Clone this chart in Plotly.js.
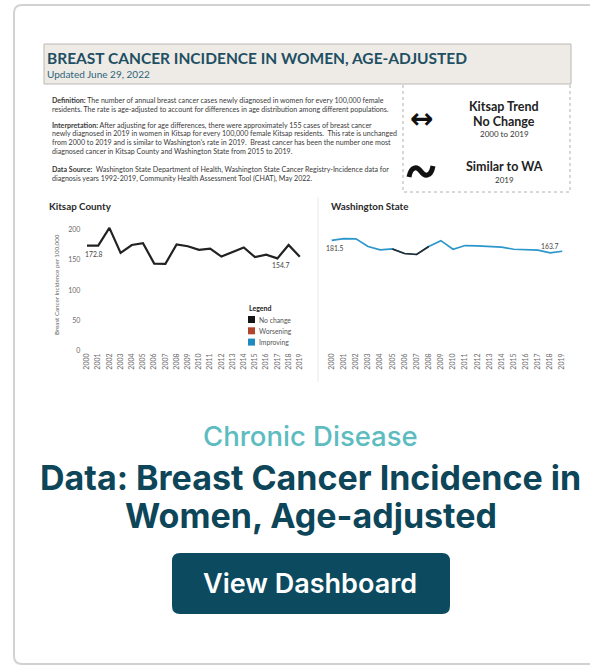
<!DOCTYPE html>
<html><head><meta charset="utf-8">
<script src="https://cdn.plot.ly/plotly-3.0.1.min.js"></script>
<style>html,body{margin:0;padding:0;background:#fff;overflow:hidden}#chart{width:590px;height:666px}</style>
</head><body><div id="chart"></div>
<script>
// ---- data ----
const years = [2000,2001,2002,2003,2004,2005,2006,2007,2008,2009,2010,2011,2012,2013,2014,2015,2016,2017,2018,2019];
const yearLabels = ['2000','2001','2002','2003','2004','2005','2006','2007','2008','2009','2010','2011','2012','2013','2014','2015','2016','2017','2018','2019'];
const kitsapRate = [172.8,173,202,161,174,177,143.5,143,175,172,166,168,155,162,170,154,158,152,174,154.7];
const waRate = [181.5,184.4,184,171.5,166,167.6,160,158.5,171.5,181,167,173,172.6,172,170.5,167,166,165.6,161,163.7];
const waNoChangeYears = [2005,2006,2007,2008];
const yTicks = [0,50,100,150,200];
const legendItems = ['No change','Worsening','Improving'];
const legendColors = ['#151515','#b2442b','#1f8ac2'];

const FONT = 'Lato, "Open Sans", sans-serif';
const CARD = 'Inter, "Noto Sans", sans-serif';
const P = {xref:'x3', yref:'y3'};

const waDark = years.map((y,i)=>waNoChangeYears.includes(y)?waRate[i]:null);

const traces = [
  {x:years, y:kitsapRate, xaxis:'x', yaxis:'y', mode:'lines', line:{color:'#222', width:2.2}, hoverinfo:'skip', showlegend:false},
  {x:years, y:waRate, xaxis:'x2', yaxis:'y2', mode:'lines', line:{color:'#2b96cb', width:1.6}, hoverinfo:'skip', showlegend:false},
  {x:years, y:waDark, xaxis:'x2', yaxis:'y2', mode:'lines', line:{color:'#2a2a2a', width:1.6}, hoverinfo:'skip', showlegend:false, connectgaps:false},
  {x:[], y:[], xaxis:'x3', yaxis:'y3', mode:'markers', hoverinfo:'skip', showlegend:false}
];

function roundRect(x0,y0,x1,y1,r){
  return `M ${x0+r} ${y0} L ${x1-r} ${y0} Q ${x1} ${y0} ${x1} ${y0+r} L ${x1} ${y1-r} Q ${x1} ${y1} ${x1-r} ${y1} L ${x0+r} ${y1} Q ${x0} ${y1} ${x0} ${y1-r} L ${x0} ${y0+r} Q ${x0} ${y0} ${x0+r} ${y0} Z`;
}

const shapes = [
  // card border
  Object.assign({type:'path', path:'M 620 5 L 22 5 Q 14 5 14 13 L 14 656 Q 14 664 22 664 L 620 664', line:{color:'#d2d2d2', width:2}, layer:'below'}, P),
  // header box
  Object.assign({type:'rect', x0:44, y0:44, x1:571, y1:84, fillcolor:'#eeebe7', line:{color:'#bcb7b2', width:1}, layer:'below'}, P),
  // dotted box
  Object.assign({type:'path', path:'M 403 85 L 403 192 L 570 192 L 570 85', line:{color:'#b0b0b0', width:1, dash:'dot'}, layer:'below'}, P),
  // divider
  Object.assign({type:'line', x0:318, y0:197, x1:318, y1:382, line:{color:'#e8e8e8', width:1}, layer:'below'}, P),
  // "similar" tilde icon
  Object.assign({type:'path', path:'M 409 177 C 411 166, 417 166, 421 171.5 C 425 177, 431 177, 433 166', line:{color:'#111', width:5}}, P),
  // button
  Object.assign({type:'path', path:roundRect(172,553,450,614,8), fillcolor:'#0b4a5f', line:{width:0}, layer:'below'}, P)
];
legendItems.forEach((n,i)=>{
  shapes.push(Object.assign({type:'rect', x0:248, x1:255, y0:316+i*11.3, y1:323+i*11.3, fillcolor:legendColors[i], line:{width:0}}, P));
});

const ann = [];
function t(x,y,text,size,opts){
  ann.push(Object.assign({x:x, y:y, text:text, showarrow:false, xanchor:'left', yanchor:'middle',
    font:{family:FONT, size:size, color:'#333'}}, P, opts||{}));
}
// header
t(45,57.5,'<b>BREAST CANCER INCIDENCE IN WOMEN, AGE-ADJUSTED</b>',15.5,{font:{family:FONT,size:15.5,color:'#1f4f63'}});
t(45,73.5,'Updated June 29, 2022',10,{font:{family:FONT,size:10,color:'#2b6478'}});
// paragraphs
const paraLines = [
  [100,'<b>Definition:</b> The number of annual breast cancer cases newly diagnosed in women for every 100,000 female'],
  [109,'residents. The rate is age-adjusted to account for differences in age distribution among different populations.'],
  [125,'<b>Interpretation:</b> After adjusting for age differences, there were approximately 155 cases of breast cancer'],
  [133.7,'newly diagnosed in 2019 in women in Kitsap for every 100,000 female Kitsap residents.  This rate is unchanged'],
  [142.3,'from 2000 to 2019 and is similar to Washington\'s rate in 2019.  Breast cancer has been the number one most'],
  [151,'diagnosed cancer in Kitsap County and Washington State from 2015 to 2019.'],
  [169,'<b>Data Source:</b>  Washington State Department of Health, Washington State Cancer Registry-Incidence data for'],
  [178,'diagnosis years 1992-2019, Community Health Assessment Tool (CHAT), May 2022.']
];
paraLines.forEach(l=>t(50,l[0],l[1],7.1,{font:{family:FONT,size:7.1,color:'#3a3a3a'}}));
// trend box
t(421,118,'<b>↔</b>',28,{xanchor:'center',font:{family:'DejaVu Sans',size:28,color:'#111'}});
t(504,106,'<b>Kitsap Trend</b>',12.5,{xanchor:'center',font:{family:FONT,size:12.5,color:'#222'}});
t(504,121,'<b>No Change</b>',12.5,{xanchor:'center',font:{family:FONT,size:12.5,color:'#222'}});
t(504,134,'2000 to 2019',8,{xanchor:'center',font:{family:FONT,size:8,color:'#333'}});
t(504,166,'<b>Similar to WA</b>',12.5,{xanchor:'center',font:{family:FONT,size:12.5,color:'#222'}});
t(504,180,'2019',8,{xanchor:'center',font:{family:FONT,size:8,color:'#333'}});
// chart titles
t(47,205.5,'<b>Kitsap County</b>',9.8,{font:{family:FONT,size:9.8,color:'#2a2a2a'}});
t(329,206,'<b>Washington State</b>',9.8,{font:{family:FONT,size:9.8,color:'#2a2a2a'}});
// y axis title
t(56,285,'Breast Cancer Incidence per 100,000',6.2,{xanchor:'center',textangle:-90,font:{family:FONT,size:6.2,color:'#666'}});
// legend
t(247,308,'<b>Legend</b>',7,{font:{family:FONT,size:7,color:'#222'}});
legendItems.forEach((n,i)=>t(257,319.5+i*11.3,n,6.8,{font:{family:FONT,size:6.8,color:'#555'}}));
// data labels (anchored to data points)
const lblFont = {family:FONT, size:6.8, color:'#444'};
ann.push({x:years[0], y:kitsapRate[0], xref:'x', yref:'y', text:kitsapRate[0].toFixed(1), showarrow:false, xshift:6, yshift:-8, font:lblFont});
ann.push({x:years[19], y:kitsapRate[19], xref:'x', yref:'y', text:kitsapRate[19].toFixed(1), showarrow:false, xshift:-19, yshift:-8.5, font:lblFont});
ann.push({x:years[0], y:waRate[0], xref:'x2', yref:'y2', text:waRate[0].toFixed(1), showarrow:false, xshift:3, yshift:-8, font:lblFont});
ann.push({x:years[19], y:waRate[19], xref:'x2', yref:'y2', text:waRate[19].toFixed(1), showarrow:false, xshift:-13, yshift:5, font:lblFont});
// card texts
t(310,436,'Chronic Disease',27.5,{xanchor:'center',font:{family:CARD,size:27.5,weight:500,color:'#5cbcbf'}});
t(310,477,'Data: Breast Cancer Incidence in',34,{xanchor:'center',font:{family:CARD,size:34,weight:700,color:'#0d4559'}});
t(311,515,'Women, Age-adjusted',34,{xanchor:'center',font:{family:CARD,size:34,weight:700,color:'#0d4559'}});
t(310,583,'View Dashboard',27,{xanchor:'center',font:{family:CARD,size:27,weight:600,color:'#ffffff'}});

const W=590, H=666;
const yDom = [1-351/H, 1-220/H];
const tickFont = {family:FONT, size:7, color:'#6a6a6a'};
const xCommon = {range:[1999.5,2019.5], tickvals:years, ticktext:yearLabels, tickangle:-90, tickfont:tickFont,
  showgrid:false, zeroline:false, showline:false, ticks:'', fixedrange:true};
const layout = {
  width:W, height:H, margin:{l:0,r:0,t:0,b:0}, paper_bgcolor:'#ffffff', plot_bgcolor:'rgba(0,0,0,0)',
  showlegend:false,
  xaxis: Object.assign({domain:[81.4/W,305.4/W], anchor:'y'}, xCommon),
  yaxis: {domain:yDom, range:[0,215], anchor:'x', tickvals:yTicks, tickfont:tickFont, showgrid:false, zeroline:false, showline:false, ticks:'', fixedrange:true},
  xaxis2: Object.assign({domain:[325.6/W,568.3/W], anchor:'y2'}, xCommon),
  yaxis2: {domain:yDom, range:[0,215], anchor:'x2', showticklabels:false, showgrid:false, zeroline:false, showline:false, ticks:'', fixedrange:true},
  xaxis3: {domain:[0,1], range:[0,W], anchor:'y3', visible:false, fixedrange:true},
  yaxis3: {domain:[0,1], range:[H,0], anchor:'x3', visible:false, fixedrange:true},
  shapes:shapes, annotations:ann
};
Plotly.newPlot('chart', traces, layout, {staticPlot:true, displayModeBar:false});
</script></body></html>
